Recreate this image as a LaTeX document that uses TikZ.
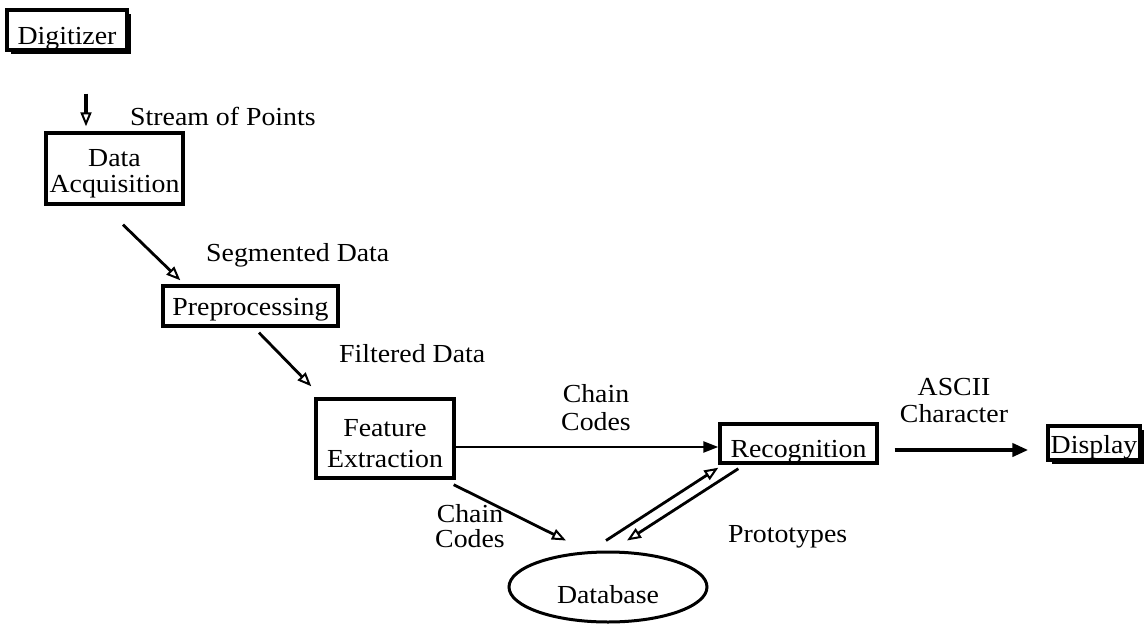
\documentclass[tikz,border=0pt]{standalone}
\usepackage{fontspec}
\setmainfont{Liberation Serif}[FakeStretch=1.07]
\usetikzlibrary{arrows.meta,shapes.geometric,shadows}

\begin{document}
\begin{tikzpicture}[x=1pt,y=-1pt,
  every node/.style={font=\fontsize{26}{28}\selectfont, inner sep=0pt},
  box/.style={draw, line width=3.4pt, fill=white, rectangle, align=center},
  shadowbox/.style={box, drop shadow={shadow xshift=4pt, shadow yshift=-4pt, fill=black, opacity=1}},
  lbl/.style={align=center},
  openarr/.style={line width=2.8pt, -{Triangle[open, length=14pt, width=11pt, line width=2pt]}},
  fillarr/.style={line width=2.4pt, -{Triangle[length=15pt, width=11pt]}},
  thickarr/.style={line width=4pt, -{Triangle[length=16pt, width=13pt]}}
]
\useasboundingbox (0,0) rectangle (1145,626);

% processing stages
\node[shadowbox, minimum width=120pt, minimum height=40pt, text height=35pt, text depth=5pt]
  (dig) at (67,30) {Digitizer};
\node[box, minimum width=137pt, minimum height=71pt, text height=59pt, text depth=12pt,
  font=\fontsize{26}{26}\selectfont]
  (acq) at (114.5,168.5) {Data\\Acquisition};
\node[box, minimum width=175pt, minimum height=40pt, text height=29pt, text depth=11pt]
  (pre) at (250.5,306) {Preprocessing};
\node[box, minimum width=138pt, minimum height=79pt, text height=68pt, text depth=11pt,
  font=\fontsize{26}{31}\selectfont]
  (fea) at (385,438.5) {Feature\\Extraction};
\node[box, minimum width=157pt, minimum height=39pt, text height=33pt, text depth=6pt]
  (rec) at (798.5,443.5) {Recognition};
\node[shadowbox, minimum width=92pt, minimum height=34pt, text height=27pt, text depth=7pt]
  (dsp) at (1094,443) {Display};
\node[draw, line width=3pt, ellipse, minimum width=198pt, minimum height=70pt,
  text height=34pt, text depth=2pt]
  (db) at (608,587) {Database};

% data flow between the stages
\draw[openarr, line width=3.2pt] ([shift={(19,42)}]dig.south) -- ([shift={(-28.5,-5)}]acq.north);
\draw[openarr] ([shift={(8.5,19)}]acq.south) -- ([shift={(19,-4)}]pre.north west);
\draw[openarr] ([shift={(8.5,5)}]pre.south) -- ([shift={(-3,-11)}]fea.north west);
\draw[fillarr] ([shift={(0,8.5)}]fea.east) -- ([shift={(0,3.5)}]rec.west);
\draw[openarr] ([shift={(-2,5)}]fea.south east) -- ([shift={(-42,-10)}]db.north);
\draw[openarr] ([shift={(-2,-10)}]db.north) -- ([shift={(0,3)}]rec.south west);
\draw[openarr] ([shift={(20,4)}]rec.south west) -- ([shift={(19,-10)}]db.north);
\draw[thickarr] ([shift={(16,6.5)}]rec.east) -- ([shift={(-18,7)}]dsp.west);

% labels on the flows
\node[anchor=base west] (lstream) at (130,125) {Stream of Points};
\node[anchor=base west] (lseg) at (206,261) {Segmented Data};
\node[anchor=base west] (lfil) at (339,362) {Filtered Data};
\node[lbl, anchor=south, text depth=0pt, font=\fontsize{26}{28}\selectfont] (lcc1) at (596,431) {Chain\\Codes};
\node[lbl, anchor=south, text depth=0pt, font=\fontsize{26}{25}\selectfont] (lcc2) at (470,548) {Chain\\Codes};
\node[lbl, anchor=south, text depth=0pt, font=\fontsize{26}{27}\selectfont] (lascii) at (954,423) {ASCII\\Character};
\node[anchor=base west] (lproto) at (728,542) {Prototypes};
\end{tikzpicture}
\end{document}
